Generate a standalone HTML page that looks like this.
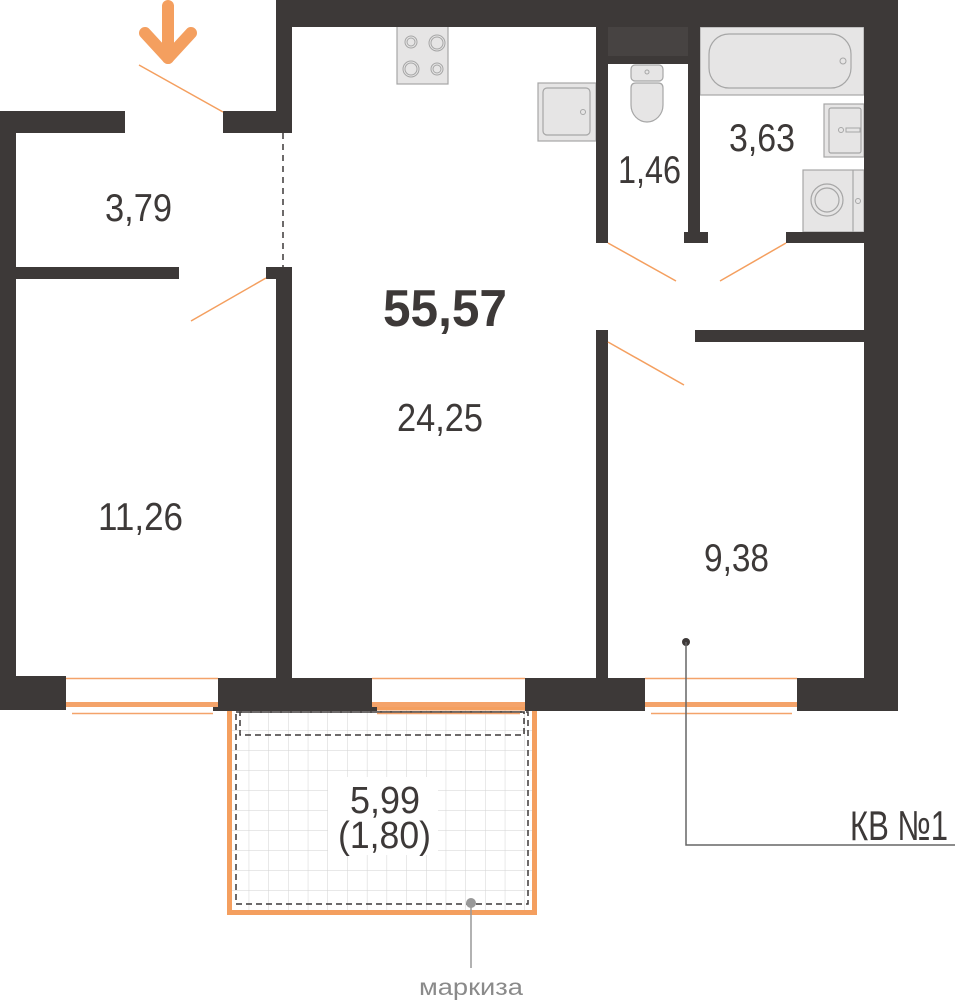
<!DOCTYPE html>
<html><head><meta charset="utf-8"><style>
html,body{margin:0;padding:0;background:#fff;}
svg{display:block;}
text{font-family:"Liberation Sans",sans-serif;fill:#3d3938;}
</style></head><body>
<svg width="955" height="1001" viewBox="0 0 955 1001" xmlns="http://www.w3.org/2000/svg">
<defs>
<pattern id="grid" x="229" y="710" width="19.7" height="20" patternUnits="userSpaceOnUse">
<path d="M0 0V20M0 0H19.7" stroke="#d2d2d2" stroke-width="1" fill="none"/>
</pattern>
</defs>
<!-- balcony -->
<rect x="229" y="710" width="305" height="202" fill="url(#grid)"/>
<rect x="328" y="777" width="110" height="78" fill="#fff"/>
<rect x="229.5" y="708" width="305" height="204.5" fill="none" stroke="#f49f5f" stroke-width="5"/>
<rect x="236" y="712" width="292" height="192" fill="none" stroke="#3d3938" stroke-width="1.5" stroke-dasharray="6,4"/>
<rect x="240" y="712" width="284" height="23" fill="none" stroke="#3d3938" stroke-width="1.5" stroke-dasharray="6,4"/>
<text x="350" y="813" font-size="38" textLength="70" lengthAdjust="spacingAndGlyphs">5,99</text>
<text x="338" y="848" font-size="38" textLength="93" lengthAdjust="spacingAndGlyphs">(1,80)</text>
<circle cx="471" cy="903" r="5" fill="#999"/>
<line x1="471" y1="903" x2="471" y2="968" stroke="#999" stroke-width="1.5"/>
<text x="419" y="995" font-size="23" textLength="104" lengthAdjust="spacingAndGlyphs" style="fill:#8a8a8a">маркиза</text>

<!-- fixtures -->
<g fill="#e6e5e5" stroke="#a6a6a6" stroke-width="1.2">
<rect x="397" y="26" width="51" height="58"/>
<rect x="538" y="83" width="58" height="58"/>
<rect x="543" y="88" width="47" height="47" rx="4"/>
<rect x="700" y="27" width="164" height="68"/>
<rect x="709" y="34" width="142" height="54" rx="20"/>
<rect x="824" y="104" width="40" height="53"/>
<rect x="829" y="108" width="32" height="45" rx="2"/>
<rect x="803" y="170" width="61" height="62"/>
<line x1="853" y1="170" x2="853" y2="232"/>
<circle cx="827" cy="200" r="16"/>
<circle cx="827" cy="200" r="12"/>
<rect x="631" y="65" width="32" height="16" rx="4"/>
<path d="M631 88 Q631 83 636 83 H658 Q663 83 663 88 V105 A16 17 0 0 1 631 105 Z"/>
</g>
<g fill="none" stroke="#a6a6a6" stroke-width="1">
<circle cx="411" cy="42" r="6"/><circle cx="411" cy="42" r="4"/>
<circle cx="437" cy="43" r="8"/><circle cx="437" cy="43" r="6"/>
<circle cx="411" cy="69" r="8"/><circle cx="411" cy="69" r="6"/>
<circle cx="437" cy="69" r="6"/><circle cx="437" cy="69" r="4"/>
<circle cx="583" cy="112" r="2.5"/>
<circle cx="843" cy="61" r="3"/>
<circle cx="841" cy="130" r="2.5"/><rect x="846" y="128" width="14" height="4"/>
<circle cx="858" cy="201" r="2.5"/>
<circle cx="647" cy="72" r="2"/>
</g>

<!-- walls -->
<g fill="#3d3938">
<rect x="276" y="0" width="622" height="27"/>
<rect x="864" y="0" width="34" height="710"/>
<rect x="276" y="0" width="16" height="133"/>
<rect x="0" y="111" width="125" height="22"/>
<rect x="223" y="111" width="69" height="22"/>
<rect x="0" y="111" width="16" height="599"/>
<rect x="16" y="267" width="163" height="12"/>
<rect x="266" y="267" width="26" height="12"/>
<rect x="276" y="267" width="16" height="411"/>
<rect x="596" y="27" width="12" height="216"/>
<rect x="608" y="27" width="80" height="37"/>
<rect x="688" y="27" width="12" height="216"/>
<rect x="684" y="232" width="24" height="11"/>
<rect x="786" y="232" width="78" height="11"/>
<rect x="695" y="330" width="169" height="12"/>
<rect x="596" y="330" width="12" height="348"/>
<rect x="0" y="676" width="66" height="34"/>
<rect x="218" y="678" width="154" height="28"/>
<rect x="213" y="705" width="164" height="6"/>
<rect x="525" y="678" width="120" height="33"/>
<rect x="797" y="678" width="101" height="33"/>
</g>
<rect x="608" y="27" width="80" height="29" fill="#474342"/>
<line x1="283" y1="133" x2="283" y2="267" stroke="#3d3938" stroke-width="1.5" stroke-dasharray="6,5"/>

<!-- windows -->
<g stroke="#f4a36a">
<line x1="66" y1="678.5" x2="218" y2="678.5" stroke-width="1.5"/>
<line x1="66" y1="704.5" x2="218" y2="704.5" stroke-width="5"/>
<line x1="72" y1="713.5" x2="213" y2="713.5" stroke-width="1.5"/>
<line x1="372" y1="678.5" x2="525" y2="678.5" stroke-width="1.5"/>
<line x1="372" y1="704.5" x2="525" y2="704.5" stroke-width="5"/>
<line x1="377" y1="713.5" x2="520" y2="713.5" stroke-width="1.5"/>
<line x1="645" y1="678.5" x2="797" y2="678.5" stroke-width="1.5"/>
<line x1="645" y1="704.5" x2="797" y2="704.5" stroke-width="5"/>
<line x1="651" y1="713.5" x2="792" y2="713.5" stroke-width="1.5"/>
</g>

<!-- doors -->
<g stroke="#f49f5f" stroke-width="1.5">
<line x1="139" y1="65" x2="223" y2="112"/>
<line x1="191" y1="321" x2="266" y2="278"/>
<line x1="608" y1="243" x2="676" y2="281"/>
<line x1="720" y1="281" x2="786" y2="243"/>
<line x1="608" y1="342" x2="684" y2="385"/>
</g>
<!-- entrance arrow -->
<g stroke="#f49f5f" stroke-width="12" stroke-linecap="round" stroke-linejoin="round" fill="none">
<line x1="168" y1="6" x2="168" y2="58"/>
<polyline points="145,33 168,58 191,33"/>
</g>

<!-- labels -->
<text x="105" y="221" font-size="39" textLength="67" lengthAdjust="spacingAndGlyphs">3,79</text>
<text x="383" y="326" font-size="52" font-weight="bold" textLength="124" lengthAdjust="spacingAndGlyphs">55,57</text>
<text x="397" y="431" font-size="39" textLength="86" lengthAdjust="spacingAndGlyphs">24,25</text>
<text x="98" y="530" font-size="39" textLength="85" lengthAdjust="spacingAndGlyphs">11,26</text>
<text x="618" y="183" font-size="39" textLength="63" lengthAdjust="spacingAndGlyphs">1,46</text>
<text x="729" y="151" font-size="39" textLength="66" lengthAdjust="spacingAndGlyphs">3,63</text>
<text x="704" y="571" font-size="39" textLength="65" lengthAdjust="spacingAndGlyphs">9,38</text>

<!-- leader -->
<circle cx="686" cy="642" r="4" fill="#3d3938"/>
<polyline points="686,642 686,845 955,845" fill="none" stroke="#666" stroke-width="1.5"/>
<text x="850" y="840" font-size="42" textLength="98" lengthAdjust="spacingAndGlyphs">КВ №1</text>
</svg>
</body></html>
